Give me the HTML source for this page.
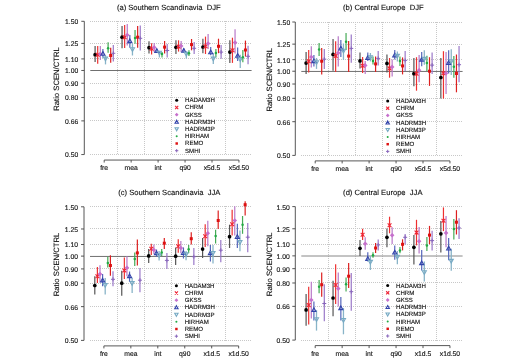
<!DOCTYPE html>
<html><head><meta charset="utf-8"><style>
html,body{margin:0;padding:0;background:#fff;}
svg{display:block;will-change:transform;}
text{font-family:"Liberation Sans",sans-serif;fill:#111;stroke:#111;stroke-width:0.12px;text-rendering:geometricPrecision;}
.tl{font-size:6.8px;}
.xl{font-size:6.8px;}
.yl{font-size:7.7px;}
.ti{font-size:7.6px;}
.lg{font-size:6.1px;}
.g{stroke:#c8c8c8;stroke-width:1;stroke-dasharray:1 1;}
.ax{stroke:#444;stroke-width:0.9;fill:none;}
</style></head><body>
<svg width="522" height="361" viewBox="0 0 522 361">
<rect width="522" height="361" fill="#fff"/>
<line x1="117.50" y1="21.00" x2="117.50" y2="155.00" class="g"/>
<line x1="144.50" y1="21.00" x2="144.50" y2="155.00" class="g"/>
<line x1="171.50" y1="21.00" x2="171.50" y2="155.00" class="g"/>
<line x1="198.50" y1="21.00" x2="198.50" y2="155.00" class="g"/>
<line x1="225.50" y1="21.00" x2="225.50" y2="155.00" class="g"/>
<rect x="173.30" y="97.30" width="51.00" height="57.00" fill="#fff"/>
<line x1="90.00" y1="21.50" x2="252.00" y2="21.50" class="g"/>
<line x1="90.00" y1="43.50" x2="252.00" y2="43.50" class="g"/>
<line x1="90.00" y1="58.50" x2="252.00" y2="58.50" class="g"/>
<line x1="90.00" y1="83.50" x2="252.00" y2="83.50" class="g"/>
<line x1="90.00" y1="97.50" x2="252.00" y2="97.50" class="g"/>
<line x1="90.00" y1="120.50" x2="252.00" y2="120.50" class="g"/>
<line x1="90.00" y1="154.50" x2="252.00" y2="154.50" class="g"/>
<line x1="90.30" y1="70.50" x2="251.60" y2="70.50" stroke="#606060" stroke-width="0.9"/>
<path d="M81.30 21.30H84.30V154.55H81.30" class="ax"/>
<line x1="81.30" y1="43.41" x2="84.30" y2="43.41" class="ax"/>
<line x1="81.30" y1="58.92" x2="84.30" y2="58.92" class="ax"/>
<line x1="81.30" y1="70.48" x2="84.30" y2="70.48" class="ax"/>
<line x1="81.30" y1="83.26" x2="84.30" y2="83.26" class="ax"/>
<line x1="81.30" y1="97.54" x2="84.30" y2="97.54" class="ax"/>
<line x1="81.30" y1="120.88" x2="84.30" y2="120.88" class="ax"/>
<text x="78.30" y="24.20" class="tl" text-anchor="end">1.50</text>
<text x="78.30" y="46.31" class="tl" text-anchor="end">1.25</text>
<text x="78.30" y="61.82" class="tl" text-anchor="end">1.10</text>
<text x="78.30" y="73.38" class="tl" text-anchor="end">1.00</text>
<text x="78.30" y="86.16" class="tl" text-anchor="end">0.90</text>
<text x="78.30" y="100.44" class="tl" text-anchor="end">0.80</text>
<text x="78.30" y="123.78" class="tl" text-anchor="end">0.66</text>
<text x="78.30" y="157.45" class="tl" text-anchor="end">0.50</text>
<path d="M104.20 162.55V160.05H238.95V162.55" class="ax"/>
<line x1="131.15" y1="160.05" x2="131.15" y2="162.55" class="ax"/>
<line x1="158.10" y1="160.05" x2="158.10" y2="162.55" class="ax"/>
<line x1="185.05" y1="160.05" x2="185.05" y2="162.55" class="ax"/>
<line x1="212.00" y1="160.05" x2="212.00" y2="162.55" class="ax"/>
<text x="104.20" y="170.35" class="xl" text-anchor="middle">fre</text>
<text x="131.15" y="170.35" class="xl" text-anchor="middle">mea</text>
<text x="158.10" y="170.35" class="xl" text-anchor="middle">int</text>
<text x="185.05" y="170.35" class="xl" text-anchor="middle">q90</text>
<text x="212.00" y="170.35" class="xl" text-anchor="middle">x5d.5</text>
<text x="238.95" y="170.35" class="xl" text-anchor="middle">x5d.50</text>
<text transform="translate(58.80,79.00) rotate(-90)" class="yl" text-anchor="middle">Ratio SCEN/CTRL</text>
<text x="168.80" y="9.70" class="ti" text-anchor="middle" xml:space="preserve">(a) Southern Scandinavia  DJF</text>
<line x1="95.10" y1="46.10" x2="95.10" y2="62.10" stroke="#555555" stroke-width="1.2"/>
<line x1="97.70" y1="45.90" x2="97.70" y2="63.80" stroke="#ee3030" stroke-width="1.2"/>
<line x1="100.30" y1="46.00" x2="100.30" y2="60.00" stroke="#b878c8" stroke-width="1.2"/>
<line x1="102.90" y1="48.90" x2="102.90" y2="57.70" stroke="#5566bb" stroke-width="1.2"/>
<line x1="105.50" y1="55.50" x2="105.50" y2="64.40" stroke="#88b4c8" stroke-width="1.3"/>
<line x1="108.10" y1="42.20" x2="108.10" y2="52.70" stroke="#44aa55" stroke-width="1.2"/>
<line x1="110.70" y1="47.70" x2="110.70" y2="62.70" stroke="#dd2020" stroke-width="1.2"/>
<line x1="113.30" y1="45.00" x2="113.30" y2="61.60" stroke="#9a78c8" stroke-width="1.2"/>
<circle cx="95.10" cy="54.70" r="1.85" fill="#000000"/>
<path d="M95.80 52.80L99.60 56.60M95.80 56.60L99.60 52.80" stroke="#ee2233" stroke-width="1.1" fill="none"/>
<path d="M100.30 51.70L102.60 54.00L100.30 56.30L98.00 54.00Z" fill="#c670cc"/>
<path d="M102.90 51.55L104.95 55.24L100.85 55.24Z" stroke="#3344aa" stroke-width="1.1" fill="none"/>
<path d="M105.50 60.85L107.55 57.16L103.45 57.16Z" stroke="#77aac4" stroke-width="1.1" fill="none"/>
<circle cx="108.10" cy="48.30" r="1.25" fill="#22aa44"/>
<rect x="109.20" y="54.00" width="3.00" height="3.00" fill="#dd1111"/>
<path d="M111.30 53.30L115.30 53.30M113.30 51.30L113.30 55.30" stroke="#8866bb" stroke-width="1.0" fill="none"/>
<line x1="122.05" y1="26.10" x2="122.05" y2="48.30" stroke="#555555" stroke-width="1.2"/>
<line x1="124.65" y1="25.00" x2="124.65" y2="48.00" stroke="#ee3030" stroke-width="1.2"/>
<line x1="127.25" y1="24.10" x2="127.25" y2="45.50" stroke="#b878c8" stroke-width="1.2"/>
<line x1="129.85" y1="35.00" x2="129.85" y2="47.70" stroke="#5566bb" stroke-width="1.2"/>
<line x1="132.45" y1="43.90" x2="132.45" y2="55.50" stroke="#88b4c8" stroke-width="1.3"/>
<line x1="135.05" y1="30.00" x2="135.05" y2="43.80" stroke="#44aa55" stroke-width="1.2"/>
<line x1="137.65" y1="26.10" x2="137.65" y2="47.70" stroke="#dd2020" stroke-width="1.2"/>
<line x1="140.25" y1="25.50" x2="140.25" y2="50.50" stroke="#9a78c8" stroke-width="1.2"/>
<circle cx="122.05" cy="37.20" r="1.85" fill="#000000"/>
<path d="M122.75 35.30L126.55 39.10M122.75 39.10L126.55 35.30" stroke="#ee2233" stroke-width="1.1" fill="none"/>
<path d="M127.25 32.70L129.55 35.00L127.25 37.30L124.95 35.00Z" fill="#c670cc"/>
<path d="M129.85 38.95L131.90 42.64L127.80 42.64Z" stroke="#3344aa" stroke-width="1.1" fill="none"/>
<path d="M132.45 51.45L134.50 47.76L130.40 47.76Z" stroke="#77aac4" stroke-width="1.1" fill="none"/>
<circle cx="135.05" cy="38.00" r="1.25" fill="#22aa44"/>
<rect x="136.15" y="35.70" width="3.00" height="3.00" fill="#dd1111"/>
<path d="M138.25 38.30L142.25 38.30M140.25 36.30L140.25 40.30" stroke="#8866bb" stroke-width="1.0" fill="none"/>
<line x1="149.00" y1="41.30" x2="149.00" y2="53.50" stroke="#555555" stroke-width="1.2"/>
<line x1="151.60" y1="43.20" x2="151.60" y2="54.40" stroke="#ee3030" stroke-width="1.2"/>
<line x1="154.20" y1="42.90" x2="154.20" y2="52.00" stroke="#b878c8" stroke-width="1.2"/>
<line x1="156.80" y1="48.70" x2="156.80" y2="52.90" stroke="#5566bb" stroke-width="1.2"/>
<line x1="159.40" y1="50.80" x2="159.40" y2="57.50" stroke="#88b4c8" stroke-width="1.3"/>
<line x1="162.00" y1="52.00" x2="162.00" y2="57.50" stroke="#44aa55" stroke-width="1.2"/>
<line x1="164.60" y1="41.00" x2="164.60" y2="53.50" stroke="#dd2020" stroke-width="1.2"/>
<line x1="167.20" y1="44.10" x2="167.20" y2="57.50" stroke="#9a78c8" stroke-width="1.2"/>
<circle cx="149.00" cy="47.70" r="1.85" fill="#000000"/>
<path d="M149.70 46.80L153.50 50.60M149.70 50.60L153.50 46.80" stroke="#ee2233" stroke-width="1.1" fill="none"/>
<path d="M154.20 45.10L156.50 47.40L154.20 49.70L151.90 47.40Z" fill="#c670cc"/>
<path d="M156.80 48.75L158.85 52.44L154.75 52.44Z" stroke="#3344aa" stroke-width="1.1" fill="none"/>
<path d="M159.40 54.95L161.45 51.26L157.35 51.26Z" stroke="#77aac4" stroke-width="1.1" fill="none"/>
<circle cx="162.00" cy="54.10" r="1.25" fill="#22aa44"/>
<rect x="163.10" y="45.60" width="3.00" height="3.00" fill="#dd1111"/>
<path d="M165.20 50.50L169.20 50.50M167.20 48.50L167.20 52.50" stroke="#8866bb" stroke-width="1.0" fill="none"/>
<line x1="175.95" y1="40.30" x2="175.95" y2="54.00" stroke="#555555" stroke-width="1.2"/>
<line x1="178.55" y1="40.30" x2="178.55" y2="51.60" stroke="#ee3030" stroke-width="1.2"/>
<line x1="181.15" y1="41.00" x2="181.15" y2="52.00" stroke="#b878c8" stroke-width="1.2"/>
<line x1="183.75" y1="48.30" x2="183.75" y2="52.60" stroke="#5566bb" stroke-width="1.2"/>
<line x1="186.35" y1="51.30" x2="186.35" y2="58.60" stroke="#88b4c8" stroke-width="1.3"/>
<line x1="188.95" y1="50.30" x2="188.95" y2="56.00" stroke="#44aa55" stroke-width="1.2"/>
<line x1="191.55" y1="39.00" x2="191.55" y2="50.30" stroke="#dd2020" stroke-width="1.2"/>
<line x1="194.15" y1="42.00" x2="194.15" y2="54.00" stroke="#9a78c8" stroke-width="1.2"/>
<circle cx="175.95" cy="47.30" r="1.85" fill="#000000"/>
<path d="M176.65 44.70L180.45 48.50M176.65 48.50L180.45 44.70" stroke="#ee2233" stroke-width="1.1" fill="none"/>
<path d="M181.15 43.70L183.45 46.00L181.15 48.30L178.85 46.00Z" fill="#c670cc"/>
<path d="M183.75 48.55L185.80 52.24L181.70 52.24Z" stroke="#3344aa" stroke-width="1.1" fill="none"/>
<path d="M186.35 56.05L188.40 52.36L184.30 52.36Z" stroke="#77aac4" stroke-width="1.1" fill="none"/>
<circle cx="188.95" cy="53.20" r="1.25" fill="#22aa44"/>
<rect x="190.05" y="43.10" width="3.00" height="3.00" fill="#dd1111"/>
<path d="M192.15 48.30L196.15 48.30M194.15 46.30L194.15 50.30" stroke="#8866bb" stroke-width="1.0" fill="none"/>
<line x1="202.90" y1="38.70" x2="202.90" y2="53.20" stroke="#555555" stroke-width="1.2"/>
<line x1="205.50" y1="36.60" x2="205.50" y2="54.00" stroke="#ee3030" stroke-width="1.2"/>
<line x1="208.10" y1="33.90" x2="208.10" y2="49.10" stroke="#b878c8" stroke-width="1.2"/>
<line x1="210.70" y1="47.00" x2="210.70" y2="55.30" stroke="#5566bb" stroke-width="1.2"/>
<line x1="213.30" y1="53.20" x2="213.30" y2="64.00" stroke="#88b4c8" stroke-width="1.3"/>
<line x1="215.90" y1="49.10" x2="215.90" y2="57.40" stroke="#44aa55" stroke-width="1.2"/>
<line x1="218.50" y1="38.70" x2="218.50" y2="53.20" stroke="#dd2020" stroke-width="1.2"/>
<line x1="221.10" y1="45.00" x2="221.10" y2="58.80" stroke="#9a78c8" stroke-width="1.2"/>
<circle cx="202.90" cy="47.00" r="1.85" fill="#000000"/>
<path d="M203.60 44.40L207.40 48.20M203.60 48.20L207.40 44.40" stroke="#ee2233" stroke-width="1.1" fill="none"/>
<path d="M208.10 41.20L210.40 43.50L208.10 45.80L205.80 43.50Z" fill="#c670cc"/>
<path d="M210.70 50.05L212.75 53.74L208.65 53.74Z" stroke="#3344aa" stroke-width="1.1" fill="none"/>
<path d="M213.30 60.85L215.35 57.16L211.25 57.16Z" stroke="#77aac4" stroke-width="1.1" fill="none"/>
<circle cx="215.90" cy="53.00" r="1.25" fill="#22aa44"/>
<rect x="217.00" y="44.80" width="3.00" height="3.00" fill="#dd1111"/>
<path d="M219.10 52.10L223.10 52.10M221.10 50.10L221.10 54.10" stroke="#8866bb" stroke-width="1.0" fill="none"/>
<line x1="229.85" y1="40.30" x2="229.85" y2="62.90" stroke="#555555" stroke-width="1.2"/>
<line x1="232.45" y1="37.70" x2="232.45" y2="62.90" stroke="#ee3030" stroke-width="1.2"/>
<line x1="235.05" y1="29.20" x2="235.05" y2="53.40" stroke="#b878c8" stroke-width="1.2"/>
<line x1="237.65" y1="47.40" x2="237.65" y2="61.00" stroke="#5566bb" stroke-width="1.2"/>
<line x1="240.25" y1="54.70" x2="240.25" y2="68.00" stroke="#88b4c8" stroke-width="1.3"/>
<line x1="242.85" y1="50.00" x2="242.85" y2="62.30" stroke="#44aa55" stroke-width="1.2"/>
<line x1="245.45" y1="40.60" x2="245.45" y2="56.60" stroke="#dd2020" stroke-width="1.2"/>
<line x1="248.05" y1="45.70" x2="248.05" y2="64.20" stroke="#9a78c8" stroke-width="1.2"/>
<circle cx="229.85" cy="52.10" r="1.85" fill="#000000"/>
<path d="M230.55 48.30L234.35 52.10M230.55 52.10L234.35 48.30" stroke="#ee2233" stroke-width="1.1" fill="none"/>
<path d="M235.05 40.30L237.35 42.60L235.05 44.90L232.75 42.60Z" fill="#c670cc"/>
<path d="M237.65 53.55L239.70 57.24L235.60 57.24Z" stroke="#3344aa" stroke-width="1.1" fill="none"/>
<path d="M240.25 61.45L242.30 57.76L238.20 57.76Z" stroke="#77aac4" stroke-width="1.1" fill="none"/>
<circle cx="242.85" cy="57.20" r="1.25" fill="#22aa44"/>
<rect x="243.95" y="48.50" width="3.00" height="3.00" fill="#dd1111"/>
<path d="M246.05 56.30L250.05 56.30M248.05 54.30L248.05 58.30" stroke="#8866bb" stroke-width="1.0" fill="none"/>
<circle cx="176.70" cy="100.30" r="1.52" fill="#000000"/>
<text x="185.00" y="102.20" class="lg">HADAM3H</text>
<path d="M175.14 105.94L178.26 109.06M175.14 109.06L178.26 105.94" stroke="#ee2233" stroke-width="1.1" fill="none"/>
<text x="185.00" y="109.40" class="lg">CHRM</text>
<path d="M176.70 112.81L178.59 114.70L176.70 116.59L174.81 114.70Z" fill="#c670cc"/>
<text x="185.00" y="116.60" class="lg">GKSS</text>
<path d="M176.70 120.22L178.38 123.24L175.02 123.24Z" stroke="#3344aa" stroke-width="1.1" fill="none"/>
<text x="185.00" y="123.80" class="lg">HADRM3H</text>
<path d="M176.70 130.78L178.38 127.76L175.02 127.76Z" stroke="#77aac4" stroke-width="1.1" fill="none"/>
<text x="185.00" y="131.00" class="lg">HADRM3P</text>
<circle cx="176.70" cy="136.30" r="1.02" fill="#22aa44"/>
<text x="185.00" y="138.20" class="lg">HIRHAM</text>
<rect x="175.47" y="142.27" width="2.46" height="2.46" fill="#dd1111"/>
<text x="185.00" y="145.40" class="lg">REMO</text>
<path d="M175.06 150.70L178.34 150.70M176.70 149.06L176.70 152.34" stroke="#8866bb" stroke-width="1.0" fill="none"/>
<text x="185.00" y="152.60" class="lg">SMHI</text>
<line x1="328.50" y1="22.00" x2="328.50" y2="156.00" class="g"/>
<line x1="355.50" y1="22.00" x2="355.50" y2="156.00" class="g"/>
<line x1="382.50" y1="22.00" x2="382.50" y2="156.00" class="g"/>
<line x1="409.50" y1="22.00" x2="409.50" y2="156.00" class="g"/>
<line x1="436.50" y1="22.00" x2="436.50" y2="156.00" class="g"/>
<rect x="384.30" y="98.00" width="51.00" height="57.00" fill="#fff"/>
<line x1="301.00" y1="22.50" x2="463.00" y2="22.50" class="g"/>
<line x1="301.00" y1="44.50" x2="463.00" y2="44.50" class="g"/>
<line x1="301.00" y1="59.50" x2="463.00" y2="59.50" class="g"/>
<line x1="301.00" y1="84.50" x2="463.00" y2="84.50" class="g"/>
<line x1="301.00" y1="98.50" x2="463.00" y2="98.50" class="g"/>
<line x1="301.00" y1="121.50" x2="463.00" y2="121.50" class="g"/>
<line x1="301.00" y1="155.50" x2="463.00" y2="155.50" class="g"/>
<line x1="301.30" y1="71.45" x2="462.60" y2="71.45" stroke="#606060" stroke-width="0.9"/>
<path d="M292.30 22.00H295.30V155.40H292.30" class="ax"/>
<line x1="292.30" y1="44.14" x2="295.30" y2="44.14" class="ax"/>
<line x1="292.30" y1="59.66" x2="295.30" y2="59.66" class="ax"/>
<line x1="292.30" y1="71.23" x2="295.30" y2="71.23" class="ax"/>
<line x1="292.30" y1="84.03" x2="295.30" y2="84.03" class="ax"/>
<line x1="292.30" y1="98.33" x2="295.30" y2="98.33" class="ax"/>
<line x1="292.30" y1="121.69" x2="295.30" y2="121.69" class="ax"/>
<text x="290.20" y="24.90" class="tl" text-anchor="end">1.50</text>
<text x="290.20" y="47.04" class="tl" text-anchor="end">1.25</text>
<text x="290.20" y="62.56" class="tl" text-anchor="end">1.10</text>
<text x="290.20" y="74.13" class="tl" text-anchor="end">1.00</text>
<text x="290.20" y="86.93" class="tl" text-anchor="end">0.90</text>
<text x="290.20" y="101.23" class="tl" text-anchor="end">0.80</text>
<text x="290.20" y="124.59" class="tl" text-anchor="end">0.66</text>
<text x="290.20" y="158.30" class="tl" text-anchor="end">0.50</text>
<path d="M315.20 163.40V160.90H449.95V163.40" class="ax"/>
<line x1="342.15" y1="160.90" x2="342.15" y2="163.40" class="ax"/>
<line x1="369.10" y1="160.90" x2="369.10" y2="163.40" class="ax"/>
<line x1="396.05" y1="160.90" x2="396.05" y2="163.40" class="ax"/>
<line x1="423.00" y1="160.90" x2="423.00" y2="163.40" class="ax"/>
<text x="315.20" y="171.20" class="xl" text-anchor="middle">fre</text>
<text x="342.15" y="171.20" class="xl" text-anchor="middle">mea</text>
<text x="369.10" y="171.20" class="xl" text-anchor="middle">int</text>
<text x="396.05" y="171.20" class="xl" text-anchor="middle">q90</text>
<text x="423.00" y="171.20" class="xl" text-anchor="middle">x5d.5</text>
<text x="449.95" y="171.20" class="xl" text-anchor="middle">x5d.50</text>
<text transform="translate(272.10,79.70) rotate(-90)" class="yl" text-anchor="middle">Ratio SCEN/CTRL</text>
<text x="383.30" y="10.40" class="ti" text-anchor="middle" xml:space="preserve">(b) Central Europe  DJF</text>
<line x1="306.10" y1="52.00" x2="306.10" y2="73.90" stroke="#555555" stroke-width="1.2"/>
<line x1="308.70" y1="50.00" x2="308.70" y2="72.40" stroke="#ee3030" stroke-width="1.2"/>
<line x1="311.30" y1="46.20" x2="311.30" y2="67.40" stroke="#b878c8" stroke-width="1.2"/>
<line x1="313.90" y1="55.00" x2="313.90" y2="66.40" stroke="#5566bb" stroke-width="1.2"/>
<line x1="316.50" y1="58.00" x2="316.50" y2="68.90" stroke="#88b4c8" stroke-width="1.3"/>
<line x1="319.10" y1="43.00" x2="319.10" y2="56.00" stroke="#44aa55" stroke-width="1.2"/>
<line x1="321.70" y1="48.00" x2="321.70" y2="74.40" stroke="#dd2020" stroke-width="1.2"/>
<line x1="324.30" y1="49.00" x2="324.30" y2="68.90" stroke="#9a78c8" stroke-width="1.2"/>
<circle cx="306.10" cy="63.10" r="1.85" fill="#000000"/>
<path d="M306.80 59.30L310.60 63.10M306.80 63.10L310.60 59.30" stroke="#ee2233" stroke-width="1.1" fill="none"/>
<path d="M311.30 54.70L313.60 57.00L311.30 59.30L309.00 57.00Z" fill="#c670cc"/>
<path d="M313.90 58.95L315.95 62.64L311.85 62.64Z" stroke="#3344aa" stroke-width="1.1" fill="none"/>
<path d="M316.50 64.45L318.55 60.76L314.45 60.76Z" stroke="#77aac4" stroke-width="1.1" fill="none"/>
<circle cx="319.10" cy="49.50" r="1.25" fill="#22aa44"/>
<rect x="320.20" y="59.70" width="3.00" height="3.00" fill="#dd1111"/>
<path d="M322.30 59.10L326.30 59.10M324.30 57.10L324.30 61.10" stroke="#8866bb" stroke-width="1.0" fill="none"/>
<line x1="333.05" y1="39.00" x2="333.05" y2="70.70" stroke="#555555" stroke-width="1.2"/>
<line x1="335.65" y1="41.20" x2="335.65" y2="72.10" stroke="#ee3030" stroke-width="1.2"/>
<line x1="338.25" y1="36.20" x2="338.25" y2="66.50" stroke="#b878c8" stroke-width="1.2"/>
<line x1="340.85" y1="40.00" x2="340.85" y2="56.90" stroke="#5566bb" stroke-width="1.2"/>
<line x1="343.45" y1="43.50" x2="343.45" y2="59.90" stroke="#88b4c8" stroke-width="1.3"/>
<line x1="346.05" y1="33.00" x2="346.05" y2="50.00" stroke="#44aa55" stroke-width="1.2"/>
<line x1="348.65" y1="41.00" x2="348.65" y2="72.10" stroke="#dd2020" stroke-width="1.2"/>
<line x1="351.25" y1="34.50" x2="351.25" y2="62.80" stroke="#9a78c8" stroke-width="1.2"/>
<circle cx="333.05" cy="54.40" r="1.85" fill="#000000"/>
<path d="M333.75 54.00L337.55 57.80M333.75 57.80L337.55 54.00" stroke="#ee2233" stroke-width="1.1" fill="none"/>
<path d="M338.25 50.60L340.55 52.90L338.25 55.20L335.95 52.90Z" fill="#c670cc"/>
<path d="M340.85 46.35L342.90 50.04L338.80 50.04Z" stroke="#3344aa" stroke-width="1.1" fill="none"/>
<path d="M343.45 52.95L345.50 49.26L341.40 49.26Z" stroke="#77aac4" stroke-width="1.1" fill="none"/>
<circle cx="346.05" cy="41.80" r="1.25" fill="#22aa44"/>
<rect x="347.15" y="54.60" width="3.00" height="3.00" fill="#dd1111"/>
<path d="M349.25 48.40L353.25 48.40M351.25 46.40L351.25 50.40" stroke="#8866bb" stroke-width="1.0" fill="none"/>
<line x1="360.00" y1="52.50" x2="360.00" y2="68.40" stroke="#555555" stroke-width="1.2"/>
<line x1="362.60" y1="57.00" x2="362.60" y2="72.90" stroke="#ee3030" stroke-width="1.2"/>
<line x1="365.20" y1="60.90" x2="365.20" y2="73.90" stroke="#b878c8" stroke-width="1.2"/>
<line x1="367.80" y1="52.50" x2="367.80" y2="60.90" stroke="#5566bb" stroke-width="1.2"/>
<line x1="370.40" y1="53.00" x2="370.40" y2="61.40" stroke="#88b4c8" stroke-width="1.3"/>
<line x1="373.00" y1="56.50" x2="373.00" y2="64.40" stroke="#44aa55" stroke-width="1.2"/>
<line x1="375.60" y1="56.50" x2="375.60" y2="71.90" stroke="#dd2020" stroke-width="1.2"/>
<line x1="378.20" y1="51.00" x2="378.20" y2="65.40" stroke="#9a78c8" stroke-width="1.2"/>
<circle cx="360.00" cy="60.90" r="1.85" fill="#000000"/>
<path d="M360.70 63.80L364.50 67.60M360.70 67.60L364.50 63.80" stroke="#ee2233" stroke-width="1.1" fill="none"/>
<path d="M365.20 63.10L367.50 65.40L365.20 67.70L362.90 65.40Z" fill="#c670cc"/>
<path d="M367.80 55.65L369.85 59.34L365.75 59.34Z" stroke="#3344aa" stroke-width="1.1" fill="none"/>
<path d="M370.40 59.45L372.45 55.76L368.35 55.76Z" stroke="#77aac4" stroke-width="1.1" fill="none"/>
<circle cx="373.00" cy="60.90" r="1.25" fill="#22aa44"/>
<rect x="374.10" y="62.40" width="3.00" height="3.00" fill="#dd1111"/>
<path d="M376.20 58.40L380.20 58.40M378.20 56.40L378.20 60.40" stroke="#8866bb" stroke-width="1.0" fill="none"/>
<line x1="386.95" y1="54.50" x2="386.95" y2="72.40" stroke="#555555" stroke-width="1.2"/>
<line x1="389.55" y1="58.00" x2="389.55" y2="77.70" stroke="#ee3030" stroke-width="1.2"/>
<line x1="392.15" y1="59.40" x2="392.15" y2="76.40" stroke="#b878c8" stroke-width="1.2"/>
<line x1="394.75" y1="50.00" x2="394.75" y2="59.40" stroke="#5566bb" stroke-width="1.2"/>
<line x1="397.35" y1="51.50" x2="397.35" y2="61.40" stroke="#88b4c8" stroke-width="1.3"/>
<line x1="399.95" y1="56.50" x2="399.95" y2="65.90" stroke="#44aa55" stroke-width="1.2"/>
<line x1="402.55" y1="57.40" x2="402.55" y2="74.40" stroke="#dd2020" stroke-width="1.2"/>
<line x1="405.15" y1="51.00" x2="405.15" y2="71.00" stroke="#9a78c8" stroke-width="1.2"/>
<circle cx="386.95" cy="63.40" r="1.85" fill="#000000"/>
<path d="M387.65 66.50L391.45 70.30M387.65 70.30L391.45 66.50" stroke="#ee2233" stroke-width="1.1" fill="none"/>
<path d="M392.15 64.60L394.45 66.90L392.15 69.20L389.85 66.90Z" fill="#c670cc"/>
<path d="M394.75 53.15L396.80 56.84L392.70 56.84Z" stroke="#3344aa" stroke-width="1.1" fill="none"/>
<path d="M397.35 58.05L399.40 54.36L395.30 54.36Z" stroke="#77aac4" stroke-width="1.1" fill="none"/>
<circle cx="399.95" cy="60.90" r="1.25" fill="#22aa44"/>
<rect x="401.05" y="64.40" width="3.00" height="3.00" fill="#dd1111"/>
<path d="M403.15 60.40L407.15 60.40M405.15 58.40L405.15 62.40" stroke="#8866bb" stroke-width="1.0" fill="none"/>
<line x1="413.90" y1="58.00" x2="413.90" y2="86.20" stroke="#555555" stroke-width="1.2"/>
<line x1="416.50" y1="57.20" x2="416.50" y2="90.70" stroke="#ee3030" stroke-width="1.2"/>
<line x1="419.10" y1="54.90" x2="419.10" y2="82.30" stroke="#b878c8" stroke-width="1.2"/>
<line x1="421.70" y1="51.90" x2="421.70" y2="66.30" stroke="#5566bb" stroke-width="1.2"/>
<line x1="424.30" y1="50.30" x2="424.30" y2="64.80" stroke="#88b4c8" stroke-width="1.3"/>
<line x1="426.90" y1="55.70" x2="426.90" y2="70.90" stroke="#44aa55" stroke-width="1.2"/>
<line x1="429.50" y1="57.20" x2="429.50" y2="85.90" stroke="#dd2020" stroke-width="1.2"/>
<line x1="432.10" y1="52.60" x2="432.10" y2="74.00" stroke="#9a78c8" stroke-width="1.2"/>
<circle cx="413.90" cy="73.70" r="1.85" fill="#000000"/>
<path d="M414.60 71.80L418.40 75.60M414.60 75.60L418.40 71.80" stroke="#ee2233" stroke-width="1.1" fill="none"/>
<path d="M419.10 67.90L421.40 70.20L419.10 72.50L416.80 70.20Z" fill="#c670cc"/>
<path d="M421.70 57.45L423.75 61.14L419.65 61.14Z" stroke="#3344aa" stroke-width="1.1" fill="none"/>
<path d="M424.30 61.05L426.35 57.36L422.25 57.36Z" stroke="#77aac4" stroke-width="1.1" fill="none"/>
<circle cx="426.90" cy="63.00" r="1.25" fill="#22aa44"/>
<rect x="428.00" y="69.70" width="3.00" height="3.00" fill="#dd1111"/>
<path d="M430.10 65.10L434.10 65.10M432.10 63.10L432.10 67.10" stroke="#8866bb" stroke-width="1.0" fill="none"/>
<line x1="440.85" y1="58.00" x2="440.85" y2="98.60" stroke="#555555" stroke-width="1.2"/>
<line x1="443.45" y1="51.20" x2="443.45" y2="98.60" stroke="#ee3030" stroke-width="1.2"/>
<line x1="446.05" y1="52.00" x2="446.05" y2="94.00" stroke="#b878c8" stroke-width="1.2"/>
<line x1="448.65" y1="50.20" x2="448.65" y2="73.50" stroke="#5566bb" stroke-width="1.2"/>
<line x1="451.25" y1="49.20" x2="451.25" y2="75.00" stroke="#88b4c8" stroke-width="1.3"/>
<line x1="453.85" y1="56.00" x2="453.85" y2="77.80" stroke="#44aa55" stroke-width="1.2"/>
<line x1="456.45" y1="54.50" x2="456.45" y2="92.30" stroke="#dd2020" stroke-width="1.2"/>
<line x1="459.05" y1="46.00" x2="459.05" y2="82.30" stroke="#9a78c8" stroke-width="1.2"/>
<circle cx="440.85" cy="77.50" r="1.85" fill="#000000"/>
<path d="M441.55 71.40L445.35 75.20M441.55 75.20L445.35 71.40" stroke="#ee2233" stroke-width="1.1" fill="none"/>
<path d="M446.05 71.00L448.35 73.30L446.05 75.60L443.75 73.30Z" fill="#c670cc"/>
<path d="M448.65 60.65L450.70 64.34L446.60 64.34Z" stroke="#3344aa" stroke-width="1.1" fill="none"/>
<path d="M451.25 63.45L453.30 59.76L449.20 59.76Z" stroke="#77aac4" stroke-width="1.1" fill="none"/>
<circle cx="453.85" cy="66.70" r="1.25" fill="#22aa44"/>
<rect x="454.95" y="72.00" width="3.00" height="3.00" fill="#dd1111"/>
<path d="M457.05 64.70L461.05 64.70M459.05 62.70L459.05 66.70" stroke="#8866bb" stroke-width="1.0" fill="none"/>
<circle cx="387.70" cy="101.00" r="1.52" fill="#000000"/>
<text x="396.00" y="102.90" class="lg">HADAM3H</text>
<path d="M386.14 106.64L389.26 109.76M386.14 109.76L389.26 106.64" stroke="#ee2233" stroke-width="1.1" fill="none"/>
<text x="396.00" y="110.10" class="lg">CHRM</text>
<path d="M387.70 113.51L389.59 115.40L387.70 117.29L385.81 115.40Z" fill="#c670cc"/>
<text x="396.00" y="117.30" class="lg">GKSS</text>
<path d="M387.70 120.92L389.38 123.94L386.02 123.94Z" stroke="#3344aa" stroke-width="1.1" fill="none"/>
<text x="396.00" y="124.50" class="lg">HADRM3H</text>
<path d="M387.70 131.48L389.38 128.46L386.02 128.46Z" stroke="#77aac4" stroke-width="1.1" fill="none"/>
<text x="396.00" y="131.70" class="lg">HADRM3P</text>
<circle cx="387.70" cy="137.00" r="1.02" fill="#22aa44"/>
<text x="396.00" y="138.90" class="lg">HIRHAM</text>
<rect x="386.47" y="142.97" width="2.46" height="2.46" fill="#dd1111"/>
<text x="396.00" y="146.10" class="lg">REMO</text>
<path d="M386.06 151.40L389.34 151.40M387.70 149.76L387.70 153.04" stroke="#8866bb" stroke-width="1.0" fill="none"/>
<text x="396.00" y="153.30" class="lg">SMHI</text>
<line x1="117.50" y1="206.00" x2="117.50" y2="341.00" class="g"/>
<line x1="144.50" y1="206.00" x2="144.50" y2="341.00" class="g"/>
<line x1="171.50" y1="206.00" x2="171.50" y2="341.00" class="g"/>
<line x1="198.50" y1="206.00" x2="198.50" y2="341.00" class="g"/>
<line x1="225.50" y1="206.00" x2="225.50" y2="341.00" class="g"/>
<rect x="173.00" y="282.80" width="51.00" height="57.00" fill="#fff"/>
<line x1="90.00" y1="206.50" x2="252.00" y2="206.50" class="g"/>
<line x1="90.00" y1="228.50" x2="252.00" y2="228.50" class="g"/>
<line x1="90.00" y1="244.50" x2="252.00" y2="244.50" class="g"/>
<line x1="90.00" y1="268.50" x2="252.00" y2="268.50" class="g"/>
<line x1="90.00" y1="283.50" x2="252.00" y2="283.50" class="g"/>
<line x1="90.00" y1="306.50" x2="252.00" y2="306.50" class="g"/>
<line x1="90.00" y1="340.50" x2="252.00" y2="340.50" class="g"/>
<line x1="90.00" y1="256.45" x2="251.30" y2="256.45" stroke="#606060" stroke-width="0.9"/>
<path d="M81.00 206.80H84.00V340.40H81.00" class="ax"/>
<line x1="81.00" y1="228.97" x2="84.00" y2="228.97" class="ax"/>
<line x1="81.00" y1="244.52" x2="84.00" y2="244.52" class="ax"/>
<line x1="81.00" y1="256.11" x2="84.00" y2="256.11" class="ax"/>
<line x1="81.00" y1="268.92" x2="84.00" y2="268.92" class="ax"/>
<line x1="81.00" y1="283.24" x2="84.00" y2="283.24" class="ax"/>
<line x1="81.00" y1="306.64" x2="84.00" y2="306.64" class="ax"/>
<text x="78.00" y="209.70" class="tl" text-anchor="end">1.50</text>
<text x="78.00" y="231.87" class="tl" text-anchor="end">1.25</text>
<text x="78.00" y="247.42" class="tl" text-anchor="end">1.10</text>
<text x="78.00" y="259.01" class="tl" text-anchor="end">1.00</text>
<text x="78.00" y="271.82" class="tl" text-anchor="end">0.90</text>
<text x="78.00" y="286.14" class="tl" text-anchor="end">0.80</text>
<text x="78.00" y="309.54" class="tl" text-anchor="end">0.66</text>
<text x="78.00" y="343.30" class="tl" text-anchor="end">0.50</text>
<path d="M103.90 348.40V345.90H238.65V348.40" class="ax"/>
<line x1="130.85" y1="345.90" x2="130.85" y2="348.40" class="ax"/>
<line x1="157.80" y1="345.90" x2="157.80" y2="348.40" class="ax"/>
<line x1="184.75" y1="345.90" x2="184.75" y2="348.40" class="ax"/>
<line x1="211.70" y1="345.90" x2="211.70" y2="348.40" class="ax"/>
<text x="103.90" y="356.20" class="xl" text-anchor="middle">fre</text>
<text x="130.85" y="356.20" class="xl" text-anchor="middle">mea</text>
<text x="157.80" y="356.20" class="xl" text-anchor="middle">int</text>
<text x="184.75" y="356.20" class="xl" text-anchor="middle">q90</text>
<text x="211.70" y="356.20" class="xl" text-anchor="middle">x1d.5</text>
<text x="238.65" y="356.20" class="xl" text-anchor="middle">x1d.50</text>
<text transform="translate(58.50,264.50) rotate(-90)" class="yl" text-anchor="middle">Ratio SCEN/CTRL</text>
<text x="169.30" y="195.20" class="ti" text-anchor="middle" xml:space="preserve">(c) Southern Scandinavia  JJA</text>
<line x1="94.80" y1="276.30" x2="94.80" y2="294.60" stroke="#555555" stroke-width="1.2"/>
<line x1="97.40" y1="266.90" x2="97.40" y2="282.90" stroke="#ee3030" stroke-width="1.2"/>
<line x1="100.00" y1="265.20" x2="100.00" y2="282.40" stroke="#b878c8" stroke-width="1.2"/>
<line x1="102.60" y1="274.10" x2="102.60" y2="286.30" stroke="#5566bb" stroke-width="1.2"/>
<line x1="105.20" y1="278.00" x2="105.20" y2="294.60" stroke="#88b4c8" stroke-width="1.3"/>
<line x1="107.80" y1="256.70" x2="107.80" y2="267.40" stroke="#44aa55" stroke-width="1.2"/>
<line x1="110.40" y1="255.30" x2="110.40" y2="275.70" stroke="#dd2020" stroke-width="1.2"/>
<line x1="113.00" y1="271.30" x2="113.00" y2="286.30" stroke="#9a78c8" stroke-width="1.2"/>
<circle cx="94.80" cy="285.50" r="1.85" fill="#000000"/>
<path d="M95.50 274.40L99.30 278.20M95.50 278.20L99.30 274.40" stroke="#ee2233" stroke-width="1.1" fill="none"/>
<path d="M100.00 271.80L102.30 274.10L100.00 276.40L97.70 274.10Z" fill="#c670cc"/>
<path d="M102.60 278.15L104.65 281.84L100.55 281.84Z" stroke="#3344aa" stroke-width="1.1" fill="none"/>
<path d="M105.20 287.15L107.25 283.46L103.15 283.46Z" stroke="#77aac4" stroke-width="1.1" fill="none"/>
<circle cx="107.80" cy="263.00" r="1.25" fill="#22aa44"/>
<rect x="108.90" y="264.00" width="3.00" height="3.00" fill="#dd1111"/>
<path d="M111.00 279.30L115.00 279.30M113.00 277.30L113.00 281.30" stroke="#8866bb" stroke-width="1.0" fill="none"/>
<line x1="121.75" y1="270.80" x2="121.75" y2="295.70" stroke="#555555" stroke-width="1.2"/>
<line x1="124.35" y1="257.40" x2="124.35" y2="279.10" stroke="#ee3030" stroke-width="1.2"/>
<line x1="126.95" y1="256.30" x2="126.95" y2="276.30" stroke="#b878c8" stroke-width="1.2"/>
<line x1="129.55" y1="271.50" x2="129.55" y2="281.90" stroke="#5566bb" stroke-width="1.2"/>
<line x1="132.15" y1="277.70" x2="132.15" y2="292.90" stroke="#88b4c8" stroke-width="1.3"/>
<line x1="134.75" y1="252.40" x2="134.75" y2="265.90" stroke="#44aa55" stroke-width="1.2"/>
<line x1="137.35" y1="239.50" x2="137.35" y2="265.40" stroke="#dd2020" stroke-width="1.2"/>
<line x1="139.95" y1="268.00" x2="139.95" y2="292.20" stroke="#9a78c8" stroke-width="1.2"/>
<circle cx="121.75" cy="283.20" r="1.85" fill="#000000"/>
<path d="M122.45 268.60L126.25 272.40M122.45 272.40L126.25 268.60" stroke="#ee2233" stroke-width="1.1" fill="none"/>
<path d="M126.95 265.40L129.25 267.70L126.95 270.00L124.65 267.70Z" fill="#c670cc"/>
<path d="M129.55 273.95L131.60 277.64L127.50 277.64Z" stroke="#3344aa" stroke-width="1.1" fill="none"/>
<path d="M132.15 285.25L134.20 281.56L130.10 281.56Z" stroke="#77aac4" stroke-width="1.1" fill="none"/>
<circle cx="134.75" cy="258.90" r="1.25" fill="#22aa44"/>
<rect x="135.85" y="251.40" width="3.00" height="3.00" fill="#dd1111"/>
<path d="M137.95 280.20L141.95 280.20M139.95 278.20L139.95 282.20" stroke="#8866bb" stroke-width="1.0" fill="none"/>
<line x1="148.70" y1="249.00" x2="148.70" y2="262.90" stroke="#555555" stroke-width="1.2"/>
<line x1="151.30" y1="243.80" x2="151.30" y2="254.90" stroke="#ee3030" stroke-width="1.2"/>
<line x1="153.90" y1="244.50" x2="153.90" y2="254.00" stroke="#b878c8" stroke-width="1.2"/>
<line x1="156.50" y1="249.50" x2="156.50" y2="256.90" stroke="#5566bb" stroke-width="1.2"/>
<line x1="159.10" y1="251.00" x2="159.10" y2="260.40" stroke="#88b4c8" stroke-width="1.3"/>
<line x1="161.70" y1="249.00" x2="161.70" y2="256.00" stroke="#44aa55" stroke-width="1.2"/>
<line x1="164.30" y1="238.00" x2="164.30" y2="249.00" stroke="#dd2020" stroke-width="1.2"/>
<line x1="166.90" y1="253.00" x2="166.90" y2="268.90" stroke="#9a78c8" stroke-width="1.2"/>
<circle cx="148.70" cy="255.90" r="1.85" fill="#000000"/>
<path d="M149.40 246.90L153.20 250.70M149.40 250.70L153.20 246.90" stroke="#ee2233" stroke-width="1.1" fill="none"/>
<path d="M153.90 247.70L156.20 250.00L153.90 252.30L151.60 250.00Z" fill="#c670cc"/>
<path d="M156.50 250.95L158.55 254.64L154.45 254.64Z" stroke="#3344aa" stroke-width="1.1" fill="none"/>
<path d="M159.10 257.45L161.15 253.76L157.05 253.76Z" stroke="#77aac4" stroke-width="1.1" fill="none"/>
<circle cx="161.70" cy="252.50" r="1.25" fill="#22aa44"/>
<rect x="162.80" y="241.70" width="3.00" height="3.00" fill="#dd1111"/>
<path d="M164.90 260.40L168.90 260.40M166.90 258.40L166.90 262.40" stroke="#8866bb" stroke-width="1.0" fill="none"/>
<line x1="175.65" y1="247.40" x2="175.65" y2="264.90" stroke="#555555" stroke-width="1.2"/>
<line x1="178.25" y1="239.30" x2="178.25" y2="252.70" stroke="#ee3030" stroke-width="1.2"/>
<line x1="180.85" y1="241.00" x2="180.85" y2="253.30" stroke="#b878c8" stroke-width="1.2"/>
<line x1="183.45" y1="247.40" x2="183.45" y2="258.50" stroke="#5566bb" stroke-width="1.2"/>
<line x1="186.05" y1="250.90" x2="186.05" y2="260.20" stroke="#88b4c8" stroke-width="1.3"/>
<line x1="188.65" y1="245.10" x2="188.65" y2="253.30" stroke="#44aa55" stroke-width="1.2"/>
<line x1="191.25" y1="232.30" x2="191.25" y2="244.50" stroke="#dd2020" stroke-width="1.2"/>
<line x1="193.85" y1="248.00" x2="193.85" y2="264.90" stroke="#9a78c8" stroke-width="1.2"/>
<circle cx="175.65" cy="256.20" r="1.85" fill="#000000"/>
<path d="M176.35 244.40L180.15 248.20M176.35 248.20L180.15 244.40" stroke="#ee2233" stroke-width="1.1" fill="none"/>
<path d="M180.85 245.70L183.15 248.00L180.85 250.30L178.55 248.00Z" fill="#c670cc"/>
<path d="M183.45 250.65L185.50 254.34L181.40 254.34Z" stroke="#3344aa" stroke-width="1.1" fill="none"/>
<path d="M186.05 256.45L188.10 252.76L184.00 252.76Z" stroke="#77aac4" stroke-width="1.1" fill="none"/>
<circle cx="188.65" cy="249.20" r="1.25" fill="#22aa44"/>
<rect x="189.75" y="237.20" width="3.00" height="3.00" fill="#dd1111"/>
<path d="M191.85 256.70L195.85 256.70M193.85 254.70L193.85 258.70" stroke="#8866bb" stroke-width="1.0" fill="none"/>
<line x1="202.60" y1="238.00" x2="202.60" y2="258.10" stroke="#555555" stroke-width="1.2"/>
<line x1="205.20" y1="224.20" x2="205.20" y2="247.00" stroke="#ee3030" stroke-width="1.2"/>
<line x1="207.80" y1="220.80" x2="207.80" y2="246.30" stroke="#b878c8" stroke-width="1.2"/>
<line x1="210.40" y1="244.90" x2="210.40" y2="261.60" stroke="#5566bb" stroke-width="1.2"/>
<line x1="213.00" y1="244.90" x2="213.00" y2="263.60" stroke="#88b4c8" stroke-width="1.3"/>
<line x1="215.60" y1="229.80" x2="215.60" y2="243.50" stroke="#44aa55" stroke-width="1.2"/>
<line x1="218.20" y1="210.40" x2="218.20" y2="229.10" stroke="#dd2020" stroke-width="1.2"/>
<line x1="220.80" y1="240.00" x2="220.80" y2="262.20" stroke="#9a78c8" stroke-width="1.2"/>
<circle cx="202.60" cy="249.10" r="1.85" fill="#000000"/>
<path d="M203.30 234.40L207.10 238.20M203.30 238.20L207.10 234.40" stroke="#ee2233" stroke-width="1.1" fill="none"/>
<path d="M207.80 230.90L210.10 233.20L207.80 235.50L205.50 233.20Z" fill="#c670cc"/>
<path d="M210.40 250.95L212.45 254.64L208.35 254.64Z" stroke="#3344aa" stroke-width="1.1" fill="none"/>
<path d="M213.00 255.25L215.05 251.56L210.95 251.56Z" stroke="#77aac4" stroke-width="1.1" fill="none"/>
<circle cx="215.60" cy="236.10" r="1.25" fill="#22aa44"/>
<rect x="216.70" y="219.00" width="3.00" height="3.00" fill="#dd1111"/>
<path d="M218.80 250.20L222.80 250.20M220.80 248.20L220.80 252.20" stroke="#8866bb" stroke-width="1.0" fill="none"/>
<line x1="229.55" y1="224.70" x2="229.55" y2="248.00" stroke="#555555" stroke-width="1.2"/>
<line x1="232.15" y1="209.70" x2="232.15" y2="235.50" stroke="#ee3030" stroke-width="1.2"/>
<line x1="234.75" y1="206.30" x2="234.75" y2="235.50" stroke="#b878c8" stroke-width="1.2"/>
<line x1="237.35" y1="223.80" x2="237.35" y2="248.00" stroke="#5566bb" stroke-width="1.2"/>
<line x1="239.95" y1="230.50" x2="239.95" y2="251.30" stroke="#88b4c8" stroke-width="1.3"/>
<line x1="242.55" y1="216.00" x2="242.55" y2="233.80" stroke="#44aa55" stroke-width="1.2"/>
<line x1="245.15" y1="201.30" x2="245.15" y2="215.50" stroke="#dd2020" stroke-width="1.2"/>
<line x1="247.75" y1="223.00" x2="247.75" y2="252.20" stroke="#9a78c8" stroke-width="1.2"/>
<circle cx="229.55" cy="236.70" r="1.85" fill="#000000"/>
<path d="M230.25 222.40L234.05 226.20M230.25 226.20L234.05 222.40" stroke="#ee2233" stroke-width="1.1" fill="none"/>
<path d="M234.75 218.20L237.05 220.50L234.75 222.80L232.45 220.50Z" fill="#c670cc"/>
<path d="M237.35 234.65L239.40 238.34L235.30 238.34Z" stroke="#3344aa" stroke-width="1.1" fill="none"/>
<path d="M239.95 244.25L242.00 240.56L237.90 240.56Z" stroke="#77aac4" stroke-width="1.1" fill="none"/>
<circle cx="242.55" cy="224.70" r="1.25" fill="#22aa44"/>
<rect x="243.65" y="203.20" width="3.00" height="3.00" fill="#dd1111"/>
<path d="M245.75 237.20L249.75 237.20M247.75 235.20L247.75 239.20" stroke="#8866bb" stroke-width="1.0" fill="none"/>
<circle cx="176.40" cy="285.80" r="1.52" fill="#000000"/>
<text x="184.70" y="287.70" class="lg">HADAM3H</text>
<path d="M174.84 291.44L177.96 294.56M174.84 294.56L177.96 291.44" stroke="#ee2233" stroke-width="1.1" fill="none"/>
<text x="184.70" y="294.90" class="lg">CHRM</text>
<path d="M176.40 298.31L178.29 300.20L176.40 302.09L174.51 300.20Z" fill="#c670cc"/>
<text x="184.70" y="302.10" class="lg">GKSS</text>
<path d="M176.40 305.72L178.08 308.74L174.72 308.74Z" stroke="#3344aa" stroke-width="1.1" fill="none"/>
<text x="184.70" y="309.30" class="lg">HADRM3H</text>
<path d="M176.40 316.28L178.08 313.26L174.72 313.26Z" stroke="#77aac4" stroke-width="1.1" fill="none"/>
<text x="184.70" y="316.50" class="lg">HADRM3P</text>
<circle cx="176.40" cy="321.80" r="1.02" fill="#22aa44"/>
<text x="184.70" y="323.70" class="lg">HIRHAM</text>
<rect x="175.17" y="327.77" width="2.46" height="2.46" fill="#dd1111"/>
<text x="184.70" y="330.90" class="lg">REMO</text>
<path d="M174.76 336.20L178.04 336.20M176.40 334.56L176.40 337.84" stroke="#8866bb" stroke-width="1.0" fill="none"/>
<text x="184.70" y="338.10" class="lg">SMHI</text>
<line x1="328.50" y1="206.00" x2="328.50" y2="341.00" class="g"/>
<line x1="355.50" y1="206.00" x2="355.50" y2="341.00" class="g"/>
<line x1="382.50" y1="206.00" x2="382.50" y2="341.00" class="g"/>
<line x1="409.50" y1="206.00" x2="409.50" y2="341.00" class="g"/>
<line x1="436.50" y1="206.00" x2="436.50" y2="341.00" class="g"/>
<rect x="384.30" y="282.60" width="51.00" height="57.00" fill="#fff"/>
<line x1="301.00" y1="206.50" x2="463.00" y2="206.50" class="g"/>
<line x1="301.00" y1="228.50" x2="463.00" y2="228.50" class="g"/>
<line x1="301.00" y1="244.50" x2="463.00" y2="244.50" class="g"/>
<line x1="301.00" y1="268.50" x2="463.00" y2="268.50" class="g"/>
<line x1="301.00" y1="282.50" x2="463.00" y2="282.50" class="g"/>
<line x1="301.00" y1="306.50" x2="463.00" y2="306.50" class="g"/>
<line x1="301.00" y1="340.50" x2="463.00" y2="340.50" class="g"/>
<line x1="301.30" y1="256.00" x2="462.60" y2="256.00" stroke="#888" stroke-width="1.0"/>
<path d="M292.30 206.60H295.30V340.10H292.30" class="ax"/>
<line x1="292.30" y1="228.76" x2="295.30" y2="228.76" class="ax"/>
<line x1="292.30" y1="244.29" x2="295.30" y2="244.29" class="ax"/>
<line x1="292.30" y1="255.87" x2="295.30" y2="255.87" class="ax"/>
<line x1="292.30" y1="268.67" x2="295.30" y2="268.67" class="ax"/>
<line x1="292.30" y1="282.99" x2="295.30" y2="282.99" class="ax"/>
<line x1="292.30" y1="306.36" x2="295.30" y2="306.36" class="ax"/>
<text x="289.80" y="209.50" class="tl" text-anchor="end">1.50</text>
<text x="289.80" y="231.66" class="tl" text-anchor="end">1.25</text>
<text x="289.80" y="247.19" class="tl" text-anchor="end">1.10</text>
<text x="289.80" y="258.77" class="tl" text-anchor="end">1.00</text>
<text x="289.80" y="271.57" class="tl" text-anchor="end">0.90</text>
<text x="289.80" y="285.89" class="tl" text-anchor="end">0.80</text>
<text x="289.80" y="309.26" class="tl" text-anchor="end">0.66</text>
<text x="289.80" y="343.00" class="tl" text-anchor="end">0.50</text>
<path d="M315.20 348.10V345.60H449.95V348.10" class="ax"/>
<line x1="342.15" y1="345.60" x2="342.15" y2="348.10" class="ax"/>
<line x1="369.10" y1="345.60" x2="369.10" y2="348.10" class="ax"/>
<line x1="396.05" y1="345.60" x2="396.05" y2="348.10" class="ax"/>
<line x1="423.00" y1="345.60" x2="423.00" y2="348.10" class="ax"/>
<text x="315.20" y="355.90" class="xl" text-anchor="middle">fre</text>
<text x="342.15" y="355.90" class="xl" text-anchor="middle">mea</text>
<text x="369.10" y="355.90" class="xl" text-anchor="middle">int</text>
<text x="396.05" y="355.90" class="xl" text-anchor="middle">q90</text>
<text x="423.00" y="355.90" class="xl" text-anchor="middle">x1d.5</text>
<text x="449.95" y="355.90" class="xl" text-anchor="middle">x1d.50</text>
<text transform="translate(272.10,264.30) rotate(-90)" class="yl" text-anchor="middle">Ratio SCEN/CTRL</text>
<text x="382.80" y="195.00" class="ti" text-anchor="middle" xml:space="preserve">(d) Central Europe  JJA</text>
<line x1="306.10" y1="294.00" x2="306.10" y2="325.80" stroke="#555555" stroke-width="1.2"/>
<line x1="308.70" y1="286.70" x2="308.70" y2="324.50" stroke="#ee3030" stroke-width="1.2"/>
<line x1="311.30" y1="281.70" x2="311.30" y2="318.50" stroke="#b878c8" stroke-width="1.2"/>
<line x1="313.90" y1="301.60" x2="313.90" y2="320.50" stroke="#5566bb" stroke-width="1.2"/>
<line x1="316.50" y1="310.10" x2="316.50" y2="330.60" stroke="#88b4c8" stroke-width="1.3"/>
<line x1="319.10" y1="280.00" x2="319.10" y2="293.30" stroke="#44aa55" stroke-width="1.2"/>
<line x1="321.70" y1="272.50" x2="321.70" y2="296.70" stroke="#dd2020" stroke-width="1.2"/>
<line x1="324.30" y1="284.20" x2="324.30" y2="321.30" stroke="#9a78c8" stroke-width="1.2"/>
<circle cx="306.10" cy="309.90" r="1.85" fill="#000000"/>
<path d="M306.80 303.20L310.60 307.00M306.80 307.00L310.60 303.20" stroke="#ee2233" stroke-width="1.1" fill="none"/>
<path d="M311.30 297.70L313.60 300.00L311.30 302.30L309.00 300.00Z" fill="#c670cc"/>
<path d="M313.90 307.85L315.95 311.54L311.85 311.54Z" stroke="#3344aa" stroke-width="1.1" fill="none"/>
<path d="M316.50 321.45L318.55 317.76L314.45 317.76Z" stroke="#77aac4" stroke-width="1.1" fill="none"/>
<circle cx="319.10" cy="286.70" r="1.25" fill="#22aa44"/>
<rect x="320.20" y="283.20" width="3.00" height="3.00" fill="#dd1111"/>
<path d="M322.30 303.50L326.30 303.50M324.30 301.50L324.30 305.50" stroke="#8866bb" stroke-width="1.0" fill="none"/>
<line x1="333.05" y1="280.80" x2="333.05" y2="316.30" stroke="#555555" stroke-width="1.2"/>
<line x1="335.65" y1="264.20" x2="335.65" y2="303.90" stroke="#ee3030" stroke-width="1.2"/>
<line x1="338.25" y1="272.50" x2="338.25" y2="306.60" stroke="#b878c8" stroke-width="1.2"/>
<line x1="340.85" y1="296.90" x2="340.85" y2="320.50" stroke="#5566bb" stroke-width="1.2"/>
<line x1="343.45" y1="308.00" x2="343.45" y2="334.30" stroke="#88b4c8" stroke-width="1.3"/>
<line x1="346.05" y1="277.50" x2="346.05" y2="291.40" stroke="#44aa55" stroke-width="1.2"/>
<line x1="348.65" y1="263.10" x2="348.65" y2="288.00" stroke="#dd2020" stroke-width="1.2"/>
<line x1="351.25" y1="273.10" x2="351.25" y2="310.80" stroke="#9a78c8" stroke-width="1.2"/>
<circle cx="333.05" cy="298.00" r="1.85" fill="#000000"/>
<path d="M333.75 283.10L337.55 286.90M333.75 286.90L337.55 283.10" stroke="#ee2233" stroke-width="1.1" fill="none"/>
<path d="M338.25 286.30L340.55 288.60L338.25 290.90L335.95 288.60Z" fill="#c670cc"/>
<path d="M340.85 305.95L342.90 309.64L338.80 309.64Z" stroke="#3344aa" stroke-width="1.1" fill="none"/>
<path d="M343.45 322.25L345.50 318.56L341.40 318.56Z" stroke="#77aac4" stroke-width="1.1" fill="none"/>
<circle cx="346.05" cy="284.20" r="1.25" fill="#22aa44"/>
<rect x="347.15" y="274.70" width="3.00" height="3.00" fill="#dd1111"/>
<path d="M349.25 291.70L353.25 291.70M351.25 289.70L351.25 293.70" stroke="#8866bb" stroke-width="1.0" fill="none"/>
<line x1="360.00" y1="240.00" x2="360.00" y2="255.90" stroke="#555555" stroke-width="1.2"/>
<line x1="362.60" y1="228.70" x2="362.60" y2="240.00" stroke="#ee3030" stroke-width="1.2"/>
<line x1="365.20" y1="237.20" x2="365.20" y2="249.80" stroke="#b878c8" stroke-width="1.2"/>
<line x1="367.80" y1="252.20" x2="367.80" y2="261.40" stroke="#5566bb" stroke-width="1.2"/>
<line x1="370.40" y1="255.90" x2="370.40" y2="270.00" stroke="#88b4c8" stroke-width="1.3"/>
<line x1="373.00" y1="252.20" x2="373.00" y2="257.70" stroke="#44aa55" stroke-width="1.2"/>
<line x1="375.60" y1="243.10" x2="375.60" y2="253.10" stroke="#dd2020" stroke-width="1.2"/>
<line x1="378.20" y1="239.40" x2="378.20" y2="250.40" stroke="#9a78c8" stroke-width="1.2"/>
<circle cx="360.00" cy="248.30" r="1.85" fill="#000000"/>
<path d="M360.70 232.90L364.50 236.70M360.70 236.70L364.50 232.90" stroke="#ee2233" stroke-width="1.1" fill="none"/>
<path d="M365.20 241.40L367.50 243.70L365.20 246.00L362.90 243.70Z" fill="#c670cc"/>
<path d="M367.80 256.65L369.85 260.34L365.75 260.34Z" stroke="#3344aa" stroke-width="1.1" fill="none"/>
<path d="M370.40 264.05L372.45 260.36L368.35 260.36Z" stroke="#77aac4" stroke-width="1.1" fill="none"/>
<circle cx="373.00" cy="255.30" r="1.25" fill="#22aa44"/>
<rect x="374.10" y="246.50" width="3.00" height="3.00" fill="#dd1111"/>
<path d="M376.20 244.90L380.20 244.90M378.20 242.90L378.20 246.90" stroke="#8866bb" stroke-width="1.0" fill="none"/>
<line x1="386.95" y1="228.60" x2="386.95" y2="247.20" stroke="#555555" stroke-width="1.2"/>
<line x1="389.55" y1="216.70" x2="389.55" y2="233.30" stroke="#ee3030" stroke-width="1.2"/>
<line x1="392.15" y1="227.30" x2="392.15" y2="243.90" stroke="#b878c8" stroke-width="1.2"/>
<line x1="394.75" y1="245.40" x2="394.75" y2="259.80" stroke="#5566bb" stroke-width="1.2"/>
<line x1="397.35" y1="251.00" x2="397.35" y2="264.30" stroke="#88b4c8" stroke-width="1.3"/>
<line x1="399.95" y1="247.10" x2="399.95" y2="253.20" stroke="#44aa55" stroke-width="1.2"/>
<line x1="402.55" y1="239.30" x2="402.55" y2="250.40" stroke="#dd2020" stroke-width="1.2"/>
<line x1="405.15" y1="234.00" x2="405.15" y2="244.60" stroke="#9a78c8" stroke-width="1.2"/>
<circle cx="386.95" cy="237.30" r="1.85" fill="#000000"/>
<path d="M387.65 223.40L391.45 227.20M387.65 227.20L391.45 223.40" stroke="#ee2233" stroke-width="1.1" fill="none"/>
<path d="M392.15 233.00L394.45 235.30L392.15 237.60L389.85 235.30Z" fill="#c670cc"/>
<path d="M394.75 250.35L396.80 254.04L392.70 254.04Z" stroke="#3344aa" stroke-width="1.1" fill="none"/>
<path d="M397.35 259.05L399.40 255.36L395.30 255.36Z" stroke="#77aac4" stroke-width="1.1" fill="none"/>
<circle cx="399.95" cy="250.40" r="1.25" fill="#22aa44"/>
<rect x="401.05" y="242.80" width="3.00" height="3.00" fill="#dd1111"/>
<path d="M403.15 237.30L407.15 237.30M405.15 235.30L405.15 239.30" stroke="#8866bb" stroke-width="1.0" fill="none"/>
<line x1="413.90" y1="235.10" x2="413.90" y2="264.50" stroke="#555555" stroke-width="1.2"/>
<line x1="416.50" y1="219.80" x2="416.50" y2="245.40" stroke="#ee3030" stroke-width="1.2"/>
<line x1="419.10" y1="227.10" x2="419.10" y2="253.50" stroke="#b878c8" stroke-width="1.2"/>
<line x1="421.70" y1="249.90" x2="421.70" y2="270.60" stroke="#5566bb" stroke-width="1.2"/>
<line x1="424.30" y1="261.50" x2="424.30" y2="281.60" stroke="#88b4c8" stroke-width="1.3"/>
<line x1="426.90" y1="236.90" x2="426.90" y2="250.90" stroke="#44aa55" stroke-width="1.2"/>
<line x1="429.50" y1="225.90" x2="429.50" y2="244.20" stroke="#dd2020" stroke-width="1.2"/>
<line x1="432.10" y1="230.80" x2="432.10" y2="250.40" stroke="#9a78c8" stroke-width="1.2"/>
<circle cx="413.90" cy="247.30" r="1.85" fill="#000000"/>
<path d="M414.60 230.70L418.40 234.50M414.60 234.50L418.40 230.70" stroke="#ee2233" stroke-width="1.1" fill="none"/>
<path d="M419.10 238.90L421.40 241.20L419.10 243.50L416.80 241.20Z" fill="#c670cc"/>
<path d="M421.70 260.95L423.75 264.64L419.65 264.64Z" stroke="#3344aa" stroke-width="1.1" fill="none"/>
<path d="M424.30 274.45L426.35 270.76L422.25 270.76Z" stroke="#77aac4" stroke-width="1.1" fill="none"/>
<circle cx="426.90" cy="245.40" r="1.25" fill="#22aa44"/>
<rect x="428.00" y="233.60" width="3.00" height="3.00" fill="#dd1111"/>
<path d="M430.10 240.60L434.10 240.60M432.10 238.60L432.10 242.60" stroke="#8866bb" stroke-width="1.0" fill="none"/>
<line x1="440.85" y1="221.00" x2="440.85" y2="252.40" stroke="#555555" stroke-width="1.2"/>
<line x1="443.45" y1="207.40" x2="443.45" y2="231.10" stroke="#ee3030" stroke-width="1.2"/>
<line x1="446.05" y1="216.00" x2="446.05" y2="247.30" stroke="#b878c8" stroke-width="1.2"/>
<line x1="448.65" y1="238.00" x2="448.65" y2="260.30" stroke="#5566bb" stroke-width="1.2"/>
<line x1="451.25" y1="248.80" x2="451.25" y2="270.80" stroke="#88b4c8" stroke-width="1.3"/>
<line x1="453.85" y1="218.90" x2="453.85" y2="239.60" stroke="#44aa55" stroke-width="1.2"/>
<line x1="456.45" y1="210.20" x2="456.45" y2="234.50" stroke="#dd2020" stroke-width="1.2"/>
<line x1="459.05" y1="218.20" x2="459.05" y2="238.90" stroke="#9a78c8" stroke-width="1.2"/>
<circle cx="440.85" cy="233.80" r="1.85" fill="#000000"/>
<path d="M441.55 218.90L445.35 222.70M441.55 222.70L445.35 218.90" stroke="#ee2233" stroke-width="1.1" fill="none"/>
<path d="M446.05 230.60L448.35 232.90L446.05 235.20L443.75 232.90Z" fill="#c670cc"/>
<path d="M448.65 246.25L450.70 249.94L446.60 249.94Z" stroke="#3344aa" stroke-width="1.1" fill="none"/>
<path d="M451.25 263.05L453.30 259.36L449.20 259.36Z" stroke="#77aac4" stroke-width="1.1" fill="none"/>
<circle cx="453.85" cy="229.00" r="1.25" fill="#22aa44"/>
<rect x="454.95" y="220.70" width="3.00" height="3.00" fill="#dd1111"/>
<path d="M457.05 228.00L461.05 228.00M459.05 226.00L459.05 230.00" stroke="#8866bb" stroke-width="1.0" fill="none"/>
<circle cx="387.70" cy="285.60" r="1.52" fill="#000000"/>
<text x="396.00" y="287.50" class="lg">HADAM3H</text>
<path d="M386.14 291.24L389.26 294.36M386.14 294.36L389.26 291.24" stroke="#ee2233" stroke-width="1.1" fill="none"/>
<text x="396.00" y="294.70" class="lg">CHRM</text>
<path d="M387.70 298.11L389.59 300.00L387.70 301.89L385.81 300.00Z" fill="#c670cc"/>
<text x="396.00" y="301.90" class="lg">GKSS</text>
<path d="M387.70 305.52L389.38 308.54L386.02 308.54Z" stroke="#3344aa" stroke-width="1.1" fill="none"/>
<text x="396.00" y="309.10" class="lg">HADRM3H</text>
<path d="M387.70 316.08L389.38 313.06L386.02 313.06Z" stroke="#77aac4" stroke-width="1.1" fill="none"/>
<text x="396.00" y="316.30" class="lg">HADRM3P</text>
<circle cx="387.70" cy="321.60" r="1.02" fill="#22aa44"/>
<text x="396.00" y="323.50" class="lg">HIRHAM</text>
<rect x="386.47" y="327.57" width="2.46" height="2.46" fill="#dd1111"/>
<text x="396.00" y="330.70" class="lg">REMO</text>
<path d="M386.06 336.00L389.34 336.00M387.70 334.36L387.70 337.64" stroke="#8866bb" stroke-width="1.0" fill="none"/>
<text x="396.00" y="337.90" class="lg">SMHI</text>
</svg></body></html>
